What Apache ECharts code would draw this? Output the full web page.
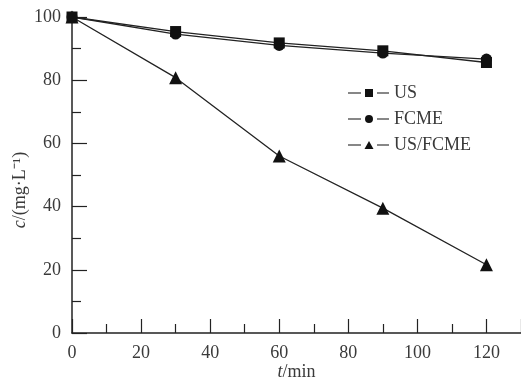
<!DOCTYPE html>
<html>
<head>
<meta charset="utf-8">
<script src="https://cdn.jsdelivr.net/npm/echarts@6/dist/echarts.min.js"></script>
<style>html,body{margin:0;padding:0;background:#fff;overflow:hidden}#c{width:521px;height:378px}</style>
</head>
<body>
<div id="c"></div>
<script>
var times = [0, 30, 60, 90, 120];
var seriesNames = ['US', 'FCME', 'US/FCME'];
var usValues = [100, 95.4, 91.8, 89.3, 85.6];
var fcmeValues = [100, 94.6, 91.0, 88.6, 86.7];
var usFcmeValues = [100, 80.8, 56.0, 39.5, 21.6];
var xTicks = [0, 20, 40, 60, 80, 100, 120];
var yTicks = [0, 20, 40, 60, 80, 100];

function pairs(vals) { return times.map(function (t, i) { return [t, vals[i]]; }); }

var FONT = 'Liberation Serif';
var ink = '#222';
var txt = '#3a3a3a';

// legend icons: dash - marker - dash
var dashes = 'M0,3.4 L13,3.4 L13,4.6 L0,4.6 Z M29,3.4 L41,3.4 L41,4.6 L29,4.6 Z ';
var legendIcons = [
  'path://' + dashes + 'M17,0 L25,0 L25,8 L17,8 Z',
  'path://' + dashes + 'M21,0 A4,4 0 1,1 21,8 A4,4 0 1,1 21,0 Z',
  'path://' + dashes + 'M21,0 L25.5,8 L16.5,8 Z'
];

var chart = echarts.init(document.getElementById('c'));
chart.setOption({
  animation: false,
  backgroundColor: '#fff',
  grid: { left: 72, right: 0, top: 17, bottom: 45, containLabel: false, outerBoundsMode: 'none' },
  xAxis: {
    type: 'value', min: 0, max: 130, interval: 20,
    name: '{i|t}/min', nameLocation: 'middle', nameGap: 30, nameMoveOverlap: false,
    nameTextStyle: { fontFamily: FONT, fontSize: 18, color: txt,
      rich: { i: { fontFamily: FONT, fontStyle: 'italic', fontSize: 18, color: txt } } },
    axisLine: { lineStyle: { color: ink, width: 1.5 } },
    axisTick: { inside: true, length: 14, lineStyle: { color: ink, width: 1.2 } },
    minorTick: { show: true, splitNumber: 2, length: 9, lineStyle: { color: ink, width: 1.2 } },
    axisLabel: { fontFamily: FONT, fontSize: 18, color: txt, margin: 11,
      formatter: function (v) { return xTicks.indexOf(v) >= 0 ? String(v) : ''; } },
    splitLine: { show: false }
  },
  yAxis: {
    type: 'value', min: 0, max: 100, interval: 20,
    name: '{i|c}/(mg·L⁻¹)', nameLocation: 'middle', nameGap: 43, nameRotate: 90, nameMoveOverlap: false,
    nameTextStyle: { fontFamily: FONT, fontSize: 18, color: txt, padding: [0, 30, 0, 0],
      rich: { i: { fontFamily: FONT, fontStyle: 'italic', fontSize: 18, color: txt } } },
    axisLine: { lineStyle: { color: ink, width: 1.5 } },
    axisTick: { inside: true, length: 15, lineStyle: { color: ink, width: 1.2 } },
    minorTick: { show: true, splitNumber: 2, length: 9, lineStyle: { color: ink, width: 1.2 } },
    axisLabel: { fontFamily: FONT, fontSize: 18, color: txt, margin: 11,
      formatter: function (v) { return yTicks.indexOf(v) >= 0 ? String(v) : ''; } },
    splitLine: { show: false }
  },
  legend: {
    orient: 'vertical', left: 343, top: 79, padding: 5,
    itemWidth: 41, itemHeight: 8, itemGap: 8,
    textStyle: { fontFamily: FONT, fontSize: 18, color: txt, padding: [0, 0, 0, 0] },
    data: seriesNames.map(function (n, i) { return { name: n, icon: legendIcons[i] }; })
  },
  series: [
    { name: seriesNames[0], type: 'line', data: pairs(usValues), symbol: 'rect', symbolSize: 11,
      lineStyle: { color: ink, width: 1.3 }, itemStyle: { color: '#111' } },
    { name: seriesNames[1], type: 'line', data: pairs(fcmeValues), symbol: 'circle', symbolSize: 11,
      lineStyle: { color: ink, width: 1.3 }, itemStyle: { color: '#111' } },
    { name: seriesNames[2], type: 'line', data: pairs(usFcmeValues), symbol: 'triangle', symbolSize: 13,
      lineStyle: { color: ink, width: 1.3 }, itemStyle: { color: '#111' } }
  ]
});
</script>
</body>
</html>
